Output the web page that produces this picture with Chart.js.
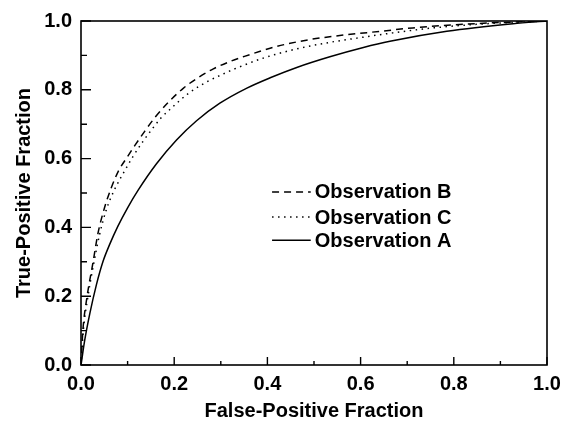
<!DOCTYPE html>
<html>
<head>
<meta charset="utf-8">
<script src="https://cdn.jsdelivr.net/npm/chart.js@4/dist/chart.umd.min.js"></script>
<style>
  html, body { margin: 0; padding: 0; background: #fff; }
  #wrap { width: 570px; height: 423px; }
</style>
</head>
<body>
<div id="wrap"><canvas id="c" width="570" height="423"></canvas></div>
<script>
// ---- Data ----
const seriesNames = ['Observation B', 'Observation C', 'Observation A'];

const obsB_x = [0, 0.004, 0.012, 0.026, 0.036, 0.05, 0.065, 0.08, 0.1, 0.116, 0.137, 0.159, 0.187, 0.22, 0.252, 0.284, 0.323, 0.348, 0.42, 0.491, 0.563, 0.642, 0.712, 0.856, 1.0];
const obsB_y = [0, 0.10, 0.19, 0.30, 0.38, 0.455, 0.515, 0.563, 0.606, 0.639, 0.680, 0.720, 0.763, 0.805, 0.836, 0.861, 0.884, 0.896, 0.926, 0.946, 0.959, 0.970, 0.980, 0.993, 1.0];

const obsC_x = [0, 0.005, 0.015, 0.028, 0.04, 0.054, 0.072, 0.094, 0.112, 0.134, 0.155, 0.173, 0.195, 0.23, 0.27, 0.305, 0.33, 0.391, 0.463, 0.534, 0.606, 0.656, 0.749, 0.856, 1.0];
const obsC_y = [0, 0.10, 0.20, 0.30, 0.38, 0.45, 0.51, 0.565, 0.607, 0.652, 0.69, 0.72, 0.748, 0.789, 0.823, 0.846, 0.861, 0.892, 0.919, 0.938, 0.953, 0.963, 0.979, 0.991, 1.0];

const obsA_x = [0, 0.008, 0.019, 0.033, 0.047, 0.062, 0.079, 0.1, 0.123, 0.162, 0.205, 0.248, 0.298, 0.356, 0.406, 0.463, 0.534, 0.606, 0.663, 0.785, 0.927, 1.0];
const obsA_y = [0, 0.072, 0.150, 0.233, 0.300, 0.352, 0.403, 0.457, 0.509, 0.585, 0.654, 0.710, 0.761, 0.805, 0.835, 0.865, 0.896, 0.923, 0.941, 0.970, 0.992, 1.0];

const xTickLabels = ['0.0', '0.2', '0.4', '0.6', '0.8', '1.0'];
const yTickLabels = ['0.0', '0.2', '0.4', '0.6', '0.8', '1.0'];
const xTitle = 'False-Positive Fraction';
const yTitle = 'True-Positive Fraction';

function pts(xs, ys) { return xs.map((x, i) => ({ x: x, y: ys[i] })); }

const FONT = '"Liberation Sans", Arial, Helvetica, sans-serif';

const styles = {
  'Observation B': { dash: [7, 5] },
  'Observation C': { dash: [1.5, 4.5] },
  'Observation A': { dash: [] }
};

const dataSets = [
  { label: seriesNames[0], data: pts(obsB_x, obsB_y) },
  { label: seriesNames[1], data: pts(obsC_x, obsC_y) },
  { label: seriesNames[2], data: pts(obsA_x, obsA_y) }
].map(d => Object.assign(d, {
  showLine: true,
  borderColor: '#000',
  borderWidth: 1.5,
  borderDash: styles[d.label].dash,
  pointRadius: 0,
  fill: false,
  cubicInterpolationMode: 'monotone'
}));

function labelFor(list) {
  return function (v) {
    const r = Math.round(v * 10);
    if (r % 2 !== 0) return '';
    return list[r / 2];
  };
}

// Plugin: box frame, inward ticks, and in-plot legend
const frame = {
  id: 'frame',
  afterDraw(chart) {
    const ctx = chart.ctx;
    const a = chart.chartArea;
    const xs = chart.scales.x, ys = chart.scales.y;
    ctx.save();
    ctx.strokeStyle = '#000';
    ctx.lineWidth = 1.6;
    ctx.strokeRect(a.left, a.top, a.right - a.left, a.bottom - a.top);
    ctx.lineWidth = 1.4;
    ctx.beginPath();
    xs.ticks.forEach(t => {
      const px = xs.getPixelForValue(t.value);
      const major = Math.round(t.value * 10) % 2 === 0;
      const len = major ? 8 : 4;
      ctx.moveTo(px, a.bottom);
      ctx.lineTo(px, a.bottom - len);
    });
    ys.ticks.forEach(t => {
      const py = ys.getPixelForValue(t.value);
      const major = Math.round(t.value * 10) % 2 === 0;
      const len = major ? 10 : 6;
      ctx.moveTo(a.left, py);
      ctx.lineTo(a.left + len, py);
    });
    ctx.stroke();

    // legend
    const lx0 = xs.getPixelForValue(0.41), lx1 = xs.getPixelForValue(0.493);
    const rows = [ys.getPixelForValue(0.503), ys.getPixelForValue(0.43), ys.getPixelForValue(0.363)];
    ctx.font = 'bold 20px ' + FONT;
    ctx.textBaseline = 'middle';
    ctx.fillStyle = '#000';
    chart.data.datasets.forEach((d, i) => {
      const y = rows[i];
      ctx.beginPath();
      ctx.setLineDash(d.borderDash || []);
      ctx.lineWidth = 1.5;
      ctx.moveTo(lx0, y);
      ctx.lineTo(lx1, y);
      ctx.stroke();
      ctx.setLineDash([]);
      ctx.fillText(d.label, lx1 + 4, y + 1);
    });
    ctx.restore();
  }
};

new Chart(document.getElementById('c'), {
  type: 'scatter',
  data: { datasets: dataSets },
  options: {
    responsive: false,
    animation: false,
    devicePixelRatio: 1,
    layout: { padding: { top: 18, right: 23, left: 0, bottom: 0 } },
    plugins: { legend: { display: false }, tooltip: { enabled: false } },
    scales: {
      x: {
        type: 'linear', min: 0, max: 1,
        afterFit(s) { s.height = 58; },
        grid: { display: false, drawTicks: false },
        border: { display: false },
        ticks: { stepSize: 0.1, autoSkip: false, maxRotation: 0, padding: 7, color: '#000',
                 font: { family: FONT, size: 20, weight: 'bold' }, callback: labelFor(xTickLabels) },
        title: { display: true, text: xTitle, color: '#000', padding: { top: 0, bottom: 0 },
                 font: { family: FONT, size: 20, weight: 'bold' } }
      },
      y: {
        type: 'linear', min: 0, max: 1,
        afterFit(s) { s.width = 81; },
        grid: { display: false, drawTicks: false },
        border: { display: false },
        ticks: { stepSize: 0.1, autoSkip: false, padding: 9, color: '#000',
                 font: { family: FONT, size: 20, weight: 'bold' }, callback: labelFor(yTickLabels) },
        title: { display: true, text: yTitle, color: '#000', padding: { top: 12, bottom: 0 },
                 font: { family: FONT, size: 20, weight: 'bold' } }
      }
    }
  },
  plugins: [frame]
});
</script>
</body>
</html>
